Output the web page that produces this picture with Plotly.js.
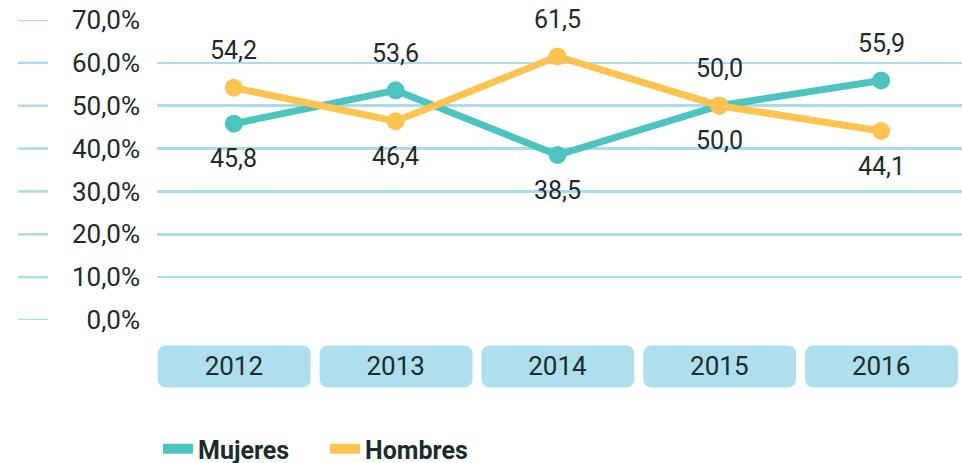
<!DOCTYPE html>
<html>
<head>
<meta charset="utf-8">
<script src="https://cdn.plot.ly/plotly-3.0.1.min.js"></script>
<style>html,body{margin:0;padding:0;background:#fff;}#chart{width:962px;height:463px;}</style>
</head>
<body>
<div id="chart"></div>
<script>
const years = ['2012', '2013', '2014', '2015', '2016'];
const mujeres = [45.8, 53.6, 38.5, 50.0, 55.9];
const hombres = [54.2, 46.4, 61.5, 50.0, 44.1];
const yTicks = [0, 10, 20, 30, 40, 50, 60, 70];
const seriesNames = ['Mujeres', 'Hombres'];

const TEAL = '#4cc4c0';
const ORANGE = '#fec44f';
const GRID = '#aadcea';
const BOX = '#aedfec';
const TXT = '#1c2b2b';
const FONT = 'Roboto, "Open Sans", sans-serif';

const W = 962, H = 463;
const mL = 157, mR = 0, mT = 20, mB = 142.5;
const plotW = W - mL - mR, plotH = H - mT - mB;
const xr = [-0.475, 4.5];

const fmt = v => v.toFixed(1).replace('.', ',');

const traces = [
  {x: years, y: mujeres, mode: 'lines+markers', name: seriesNames[0], showlegend: false,
   line: {color: TEAL, width: 7}, marker: {color: TEAL, size: 18}, cliponaxis: false},
  {x: years, y: hombres, mode: 'lines+markers', name: seriesNames[1], showlegend: false,
   line: {color: ORANGE, width: 7}, marker: {color: ORANGE, size: 18}, cliponaxis: false},
  {x: [null], y: [null], mode: 'lines', name: seriesNames[0], line: {color: TEAL, width: 10}},
  {x: [null], y: [null], mode: 'lines', name: seriesNames[1], line: {color: ORANGE, width: 10}}
];

const annotations = [];
years.forEach((yr, i) => {
  const mAbove = mujeres[i] > hombres[i];
  annotations.push({x: i, y: mujeres[i], xref: 'x', yref: 'y', text: fmt(mujeres[i]), showarrow: false,
    yshift: mAbove ? 37 : -35, font: {family: FONT, size: 25, color: TXT}});
  annotations.push({x: i, y: hombres[i], xref: 'x', yref: 'y', text: fmt(hombres[i]), showarrow: false,
    yshift: mAbove ? -35 : 37, font: {family: FONT, size: 25, color: TXT}});
});

const shapes = [];
yTicks.forEach(t => {
  shapes.push({type: 'line', xref: 'paper', yref: 'y', x0: (18 - mL) / plotW, x1: (48 - mL) / plotW,
    y0: t, y1: t, line: {color: GRID, width: 2.5}, layer: 'below'});
});
const span = xr[1] - xr[0];
const rx = 9 / plotW, ry = 9 / plotH;
const by0 = (mT + plotH - 388) / plotH, by1 = (mT + plotH - 346) / plotH;
years.forEach((yr, i) => {
  const x0 = (i - 0.47 - xr[0]) / span, x1 = (i + 0.475 - xr[0]) / span;
  const y0 = by0, y1 = by1;
  const p = `M ${x0 + rx},${y1} L ${x1 - rx},${y1} Q ${x1},${y1} ${x1},${y1 - ry} L ${x1},${y0 + ry} ` +
            `Q ${x1},${y0} ${x1 - rx},${y0} L ${x0 + rx},${y0} Q ${x0},${y0} ${x0},${y0 + ry} ` +
            `L ${x0},${y1 - ry} Q ${x0},${y1} ${x0 + rx},${y1} Z`;
  shapes.push({type: 'path', xref: 'paper', yref: 'paper', path: p, fillcolor: BOX,
    line: {width: 0}, layer: 'below'});
});

const layout = {
  width: W, height: H,
  margin: {l: mL, r: mR, t: mT, b: mB, pad: 0},
  paper_bgcolor: '#ffffff', plot_bgcolor: 'rgba(0,0,0,0)',
  separators: ',.',
  font: {family: FONT, color: TXT},
  xaxis: {type: 'category', range: xr, showgrid: false, zeroline: false, showline: false,
    ticks: '', tickfont: {family: FONT, size: 26, color: TXT}, ticklabelstandoff: 28, fixedrange: true},
  yaxis: {range: [0, 70], tickmode: 'array', tickvals: yTicks, ticktext: yTicks.map(t => fmt(t) + '%'),
    showgrid: true, gridcolor: GRID, gridwidth: 2.5, zeroline: false, showline: false,
    ticks: '', ticklabelstandoff: 16, tickfont: {family: FONT, size: 26, color: TXT}, fixedrange: true},
  showlegend: true,
  legend: {orientation: 'h', xref: 'container', x: 158 / W, xanchor: 'left',
    yref: 'container', y: (H - 449) / H, yanchor: 'middle',
    font: {family: FONT, size: 25, color: TXT, weight: 'bold'}, entrywidth: 122, entrywidthmode: 'pixels',
    bgcolor: 'rgba(0,0,0,0)', borderwidth: 0},
  annotations: annotations,
  shapes: shapes
};

Plotly.newPlot('chart', traces, layout, {displayModeBar: false, staticPlot: true});
</script>
</body>
</html>
